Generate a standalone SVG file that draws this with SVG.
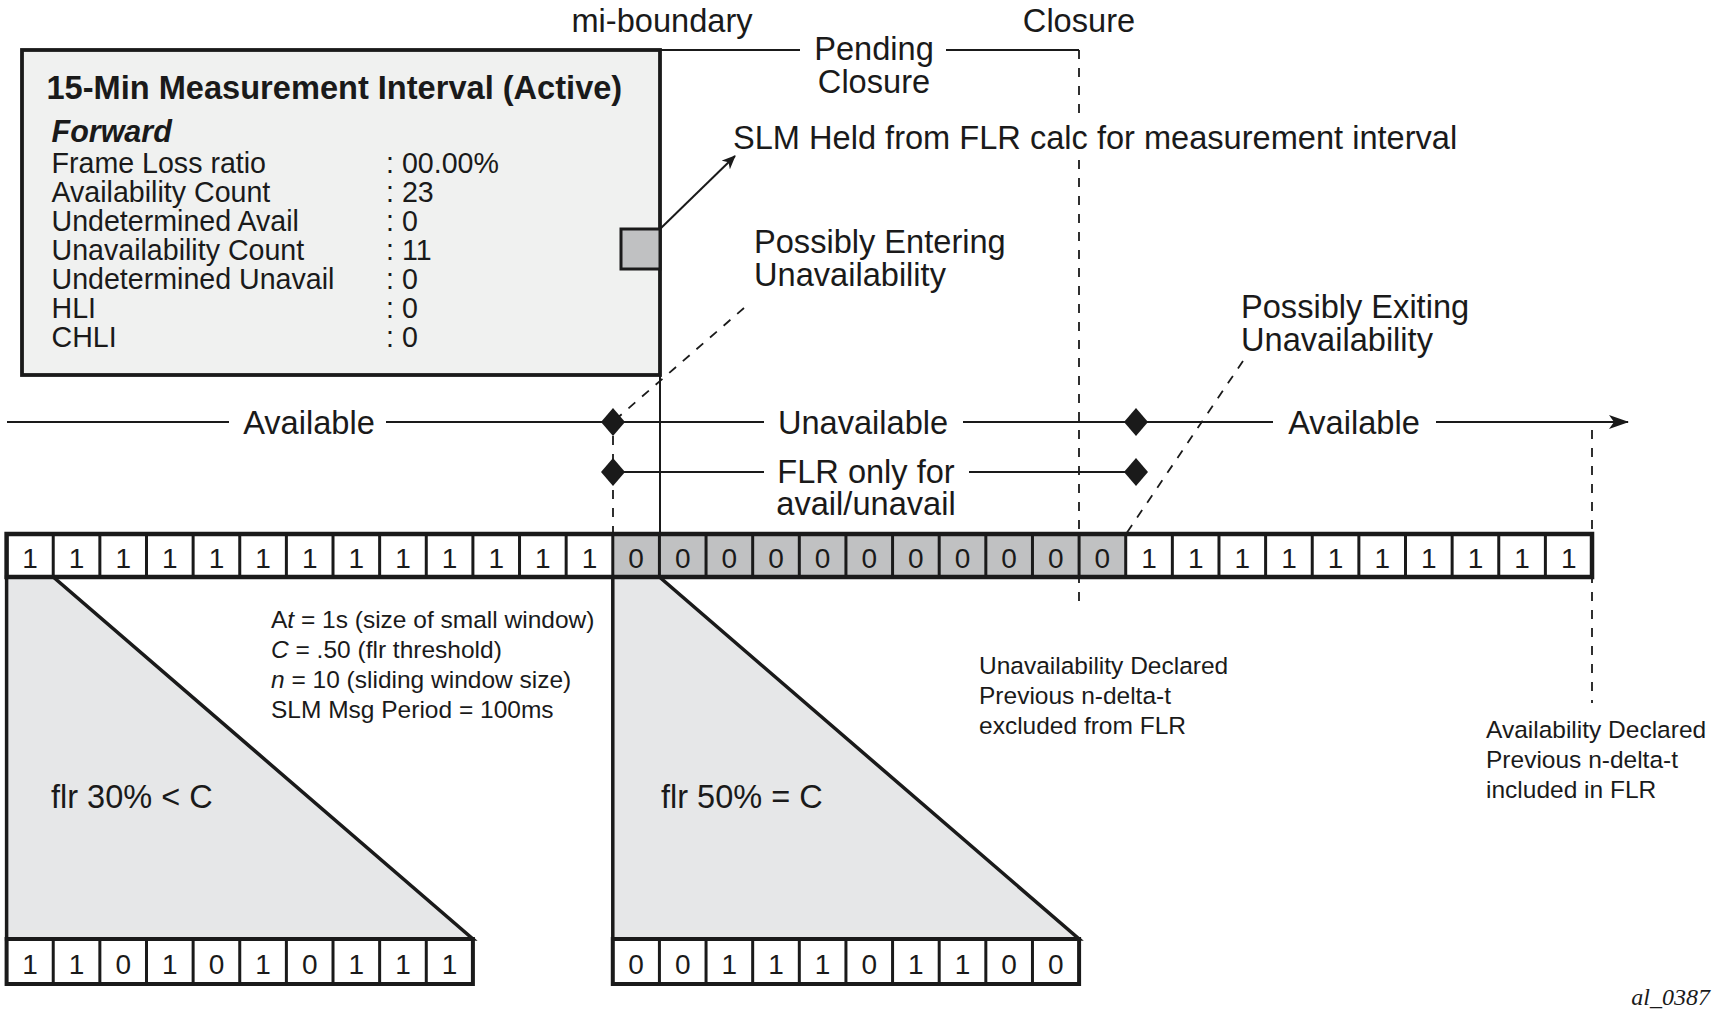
<svg xmlns="http://www.w3.org/2000/svg" width="1734" height="1019" viewBox="0 0 1734 1019">
<style>
text{font-family:"Liberation Sans",Arial,sans-serif;fill:#1a1a1a}
.big{font-size:32.6px}
.box{font-size:28.6px}
.sm{font-size:24.5px}
.cell{font-size:28px;text-anchor:middle}
.mid{text-anchor:middle}
.ln{stroke:#1a1a1a;stroke-width:2;fill:none}
.dash{stroke:#1a1a1a;stroke-width:1.8;fill:none;stroke-dasharray:9 9}
.dia{fill:#1a1a1a}
.sep{stroke:#1a1a1a;stroke-width:3;fill:none}
.frame{fill:none;stroke:#1a1a1a;stroke-width:4.5}
.tri{fill:#e6e7e8;stroke:#1a1a1a;stroke-width:3.5;stroke-linejoin:miter}
</style>
<defs>
<marker id="ah" markerWidth="14" markerHeight="12" refX="13" refY="6" orient="auto" markerUnits="userSpaceOnUse">
<path d="M0,0 L14,6 L0,12 L4,6 z" fill="#1a1a1a"/>
</marker>
<marker id="ah2" markerWidth="20" markerHeight="14" refX="19" refY="7" orient="auto" markerUnits="userSpaceOnUse">
<path d="M0,0 L20,7 L0,14 L5,7 z" fill="#1a1a1a"/>
</marker>
</defs>

<g id="interval-box">
<rect x="22" y="50" width="638" height="325" fill="#f0f1f0" stroke="#1a1a1a" stroke-width="3.8"/>
<rect x="621" y="229" width="39" height="40" fill="#c0c1c2" stroke="#1a1a1a" stroke-width="3"/>
<text x="46.5" y="99" font-size="32.6" font-weight="bold">15-Min Measurement Interval (Active)</text>
<text x="51.5" y="142" font-size="30.5" font-weight="bold" font-style="italic">Forward</text>
<text class="box" x="51.5" y="172.5">Frame Loss ratio</text>
<text class="box" x="51.5" y="201.6">Availability Count</text>
<text class="box" x="51.5" y="230.7">Undetermined Avail</text>
<text class="box" x="51.5" y="259.8">Unavailability Count</text>
<text class="box" x="51.5" y="288.9">Undetermined Unavail</text>
<text class="box" x="51.5" y="318">HLI</text>
<text class="box" x="51.5" y="347">CHLI</text>
<text class="box" x="386" y="172.5">: 00.00%</text>
<text class="box" x="386" y="201.6">: 23</text>
<text class="box" x="386" y="230.7">: 0</text>
<text class="box" x="386" y="259.8">: 11</text>
<text class="box" x="386" y="288.9">: 0</text>
<text class="box" x="386" y="318">: 0</text>
<text class="box" x="386" y="347">: 0</text>
</g>

<g id="connectors">
<line class="ln" x1="660" y1="50" x2="800" y2="50"/>
<line class="ln" x1="946" y1="50" x2="1079" y2="50"/>
<line class="dash" x1="1079" y1="50" x2="1079" y2="120"/>
<line class="dash" x1="1079" y1="160" x2="1079" y2="604"/>
<line class="ln" x1="660" y1="375" x2="660" y2="534"/>
<line class="ln" x1="660" y1="229" x2="735" y2="156" marker-end="url(#ah)"/>
<line class="dash" x1="744" y1="308" x2="615" y2="420"/>
<line class="dash" x1="1243" y1="361" x2="1126" y2="534"/>
<line class="dash" x1="613" y1="436" x2="613" y2="534"/>
<line class="dash" x1="1592" y1="430" x2="1592" y2="703"/>
<line class="ln" x1="7" y1="422" x2="229" y2="422"/>
<line class="ln" x1="386" y1="422" x2="764" y2="422"/>
<line class="ln" x1="963" y1="422" x2="1273" y2="422"/>
<line class="ln" x1="1436" y1="422" x2="1628" y2="422" marker-end="url(#ah2)"/>
<line class="ln" x1="613" y1="472" x2="764" y2="472"/>
<line class="ln" x1="969" y1="472" x2="1136" y2="472"/>
</g>

<g id="markers">
<path class="dia" d="M613,408 L625,422 L613,436 L601,422 z"/>
<path class="dia" d="M1136,408 L1148,422 L1136,436 L1124,422 z"/>
<path class="dia" d="M613,458 L625,472 L613,486 L601,472 z"/>
<path class="dia" d="M1136,458 L1148,472 L1136,486 L1124,472 z"/>
</g>

<g id="labels">
<text class="big mid" x="662" y="32">mi-boundary</text>
<text class="big mid" x="1079" y="32">Closure</text>
<text class="big mid" x="874" y="60">Pending</text>
<text class="big mid" x="874" y="93">Closure</text>
<text class="big" x="733" y="149">SLM Held from FLR calc for measurement interval</text>
<text class="big" x="754" y="253">Possibly Entering</text>
<text class="big" x="754" y="286">Unavailability</text>
<text class="big" x="1241" y="318">Possibly Exiting</text>
<text class="big" x="1241" y="351">Unavailability</text>
<text class="big mid" x="309" y="434">Available</text>
<text class="big mid" x="863" y="434">Unavailable</text>
<text class="big mid" x="1354" y="434">Available</text>
<text class="big mid" x="866" y="483">FLR only for</text>
<text class="big mid" x="866" y="515">avail/unavail</text>
<text class="sm" x="271" y="628">A<tspan font-style="italic">t</tspan> = 1s (size of small window)</text>
<text class="sm" x="271" y="658"><tspan font-style="italic">C</tspan> = .50 (flr threshold)</text>
<text class="sm" x="271" y="688"><tspan font-style="italic">n</tspan> = 10 (sliding window size)</text>
<text class="sm" x="271" y="718">SLM Msg Period = 100ms</text>
<text class="sm" x="979" y="674">Unavailability Declared</text>
<text class="sm" x="979" y="704">Previous n-delta-t</text>
<text class="sm" x="979" y="734">excluded from FLR</text>
<text class="sm" x="1486" y="738">Availability Declared</text>
<text class="sm" x="1486" y="768">Previous n-delta-t</text>
<text class="sm" x="1486" y="798">included in FLR</text>
<text x="1710" y="1005" font-style="italic" font-size="24" text-anchor="end" style="font-family:'Liberation Serif',serif">al_0387</text>
</g>

<g id="window-left">
<path class="tri" d="M6.6,577 L53.23,577 L472.9,939 L6.6,939 z"/>
<text x="51" y="808" font-size="32.5">flr 30% &lt; C</text>
</g>
<g id="window-right">
<path class="tri" d="M612.79,577 L659.42,577 L1079.09,939 L612.79,939 z"/>
<text x="661" y="808" font-size="32.5">flr 50% = C</text>
</g>

<g id="sample-row">
<rect x="6.6" y="534" width="1585.42" height="43" fill="#fff"/>
<rect x="612.79" y="534" width="512.93" height="43" fill="#c0c1c2"/>
<path class="sep" d="M53.23,534V577M99.86,534V577M146.49,534V577M193.12,534V577M239.75,534V577M286.38,534V577M333.01,534V577M379.64,534V577M426.27,534V577M472.9,534V577M519.53,534V577M566.16,534V577M612.79,534V577M659.42,534V577M706.05,534V577M752.68,534V577M799.31,534V577M845.94,534V577M892.57,534V577M939.2,534V577M985.83,534V577M1032.46,534V577M1079.09,534V577M1125.72,534V577M1172.35,534V577M1218.98,534V577M1265.61,534V577M1312.24,534V577M1358.87,534V577M1405.5,534V577M1452.13,534V577M1498.76,534V577M1545.39,534V577"/>
<rect class="frame" x="6.6" y="534" width="1585.42" height="43"/>
<text class="cell" x="29.92" y="568">1</text>
<text class="cell" x="76.55" y="568">1</text>
<text class="cell" x="123.18" y="568">1</text>
<text class="cell" x="169.81" y="568">1</text>
<text class="cell" x="216.44" y="568">1</text>
<text class="cell" x="263.07" y="568">1</text>
<text class="cell" x="309.7" y="568">1</text>
<text class="cell" x="356.33" y="568">1</text>
<text class="cell" x="402.96" y="568">1</text>
<text class="cell" x="449.59" y="568">1</text>
<text class="cell" x="496.22" y="568">1</text>
<text class="cell" x="542.85" y="568">1</text>
<text class="cell" x="589.48" y="568">1</text>
<text class="cell" x="636.11" y="568">0</text>
<text class="cell" x="682.74" y="568">0</text>
<text class="cell" x="729.37" y="568">0</text>
<text class="cell" x="776" y="568">0</text>
<text class="cell" x="822.63" y="568">0</text>
<text class="cell" x="869.26" y="568">0</text>
<text class="cell" x="915.89" y="568">0</text>
<text class="cell" x="962.52" y="568">0</text>
<text class="cell" x="1009.15" y="568">0</text>
<text class="cell" x="1055.78" y="568">0</text>
<text class="cell" x="1102.41" y="568">0</text>
<text class="cell" x="1149.04" y="568">1</text>
<text class="cell" x="1195.67" y="568">1</text>
<text class="cell" x="1242.3" y="568">1</text>
<text class="cell" x="1288.93" y="568">1</text>
<text class="cell" x="1335.56" y="568">1</text>
<text class="cell" x="1382.19" y="568">1</text>
<text class="cell" x="1428.82" y="568">1</text>
<text class="cell" x="1475.45" y="568">1</text>
<text class="cell" x="1522.08" y="568">1</text>
<text class="cell" x="1568.71" y="568">1</text>
</g>

<g id="window-left-cells">
<rect x="6.6" y="939" width="466.3" height="45" fill="#fff"/>
<path class="sep" d="M53.23,939V984M99.86,939V984M146.49,939V984M193.12,939V984M239.75,939V984M286.38,939V984M333.01,939V984M379.64,939V984M426.27,939V984"/>
<rect x="6.6" y="939" width="466.3" height="45" fill="none" stroke="#1a1a1a" stroke-width="4"/>
<text class="cell" x="29.92" y="974">1</text>
<text class="cell" x="76.55" y="974">1</text>
<text class="cell" x="123.18" y="974">0</text>
<text class="cell" x="169.81" y="974">1</text>
<text class="cell" x="216.44" y="974">0</text>
<text class="cell" x="263.07" y="974">1</text>
<text class="cell" x="309.7" y="974">0</text>
<text class="cell" x="356.33" y="974">1</text>
<text class="cell" x="402.96" y="974">1</text>
<text class="cell" x="449.59" y="974">1</text>
</g>

<g id="window-right-cells">
<rect x="612.79" y="939" width="466.3" height="45" fill="#fff"/>
<path class="sep" d="M659.42,939V984M706.05,939V984M752.68,939V984M799.31,939V984M845.94,939V984M892.57,939V984M939.2,939V984M985.83,939V984M1032.46,939V984"/>
<rect x="612.79" y="939" width="466.3" height="45" fill="none" stroke="#1a1a1a" stroke-width="4"/>
<text class="cell" x="636.11" y="974">0</text>
<text class="cell" x="682.74" y="974">0</text>
<text class="cell" x="729.37" y="974">1</text>
<text class="cell" x="776" y="974">1</text>
<text class="cell" x="822.63" y="974">1</text>
<text class="cell" x="869.26" y="974">0</text>
<text class="cell" x="915.89" y="974">1</text>
<text class="cell" x="962.52" y="974">1</text>
<text class="cell" x="1009.15" y="974">0</text>
<text class="cell" x="1055.78" y="974">0</text>
</g>
</svg>
